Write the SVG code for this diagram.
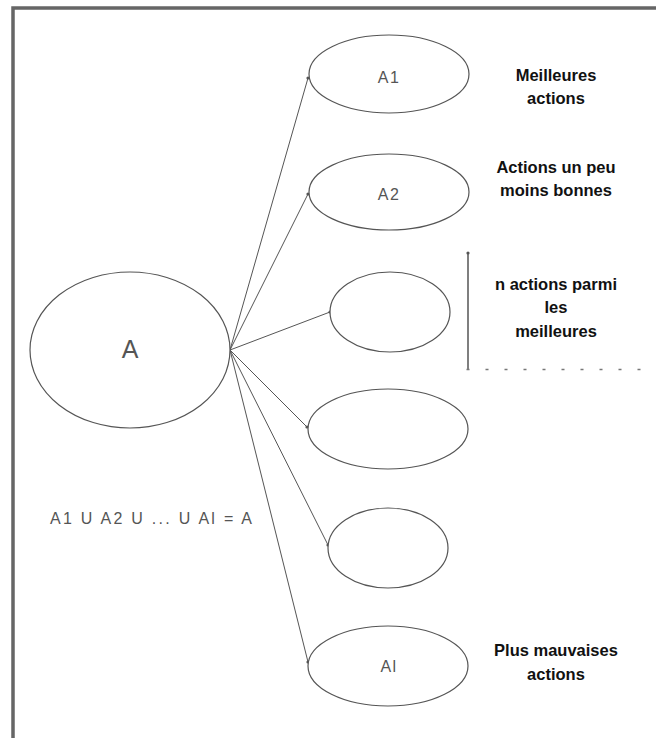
<svg xmlns="http://www.w3.org/2000/svg" width="656" height="738" viewBox="0 0 656 738">
  <defs>
    <marker id="dot" viewBox="0 0 4 4" refX="2" refY="2" markerWidth="4" markerHeight="4" markerUnits="userSpaceOnUse">
      <circle cx="2" cy="2" r="1.6" fill="#555"/>
    </marker>
  </defs>
  <style>
    .node { fill: #fff; stroke: #555; stroke-width: 1.2; }
    .lbl { font-family: "Liberation Sans", Arial, sans-serif; font-size: 16px; fill: #555; text-anchor: middle; letter-spacing: 1.5px; }
    .big { font-size: 25px; letter-spacing: 0; }
    .note { font-family: "Liberation Sans", Arial, sans-serif; font-size: 16.5px; font-weight: bold; fill: #111; text-anchor: middle; }
    .edge { stroke: #555; stroke-width: 1; fill: none; marker-end: url(#dot); }
  </style>

  <rect x="0" y="0" width="656" height="738" fill="#fff"/>
  <!-- outer frame -->
  <path d="M13 745 V8 H670" fill="none" stroke="#666" stroke-width="3.5"/>

  <!-- connectors from the root set -->
  <g id="connectors">
    <line class="edge" x1="230" y1="350" x2="308" y2="78"/>
    <line class="edge" x1="230" y1="350" x2="308" y2="194"/>
    <line class="edge" x1="230" y1="350" x2="330" y2="312"/>
    <line class="edge" x1="230" y1="350" x2="307" y2="427"/>
    <line class="edge" x1="230" y1="350" x2="328" y2="545"/>
    <line class="edge" x1="230" y1="350" x2="308" y2="662"/>
    <!-- bracket for the n best actions -->
    <line class="edge" x1="468" y1="369" x2="468" y2="253" style="stroke-width:1.5"/>
    <line x1="466.5" y1="369.5" x2="650" y2="369.5" stroke="#777" stroke-width="1.5" stroke-dasharray="3 16"/>
  </g>

  <g id="nodeA">
    <ellipse class="node" cx="130" cy="350" rx="100" ry="78"/>
    <text class="lbl big" x="130" y="358">A</text>
  </g>
  <g id="nodeA1">
    <ellipse class="node" cx="389" cy="74" rx="80" ry="39"/>
    <text class="lbl" x="389" y="83">A1</text>
  </g>
  <g id="nodeA2">
    <ellipse class="node" cx="389" cy="192" rx="80" ry="38"/>
    <text class="lbl" x="389" y="200">A2</text>
  </g>
  <g id="node3">
    <ellipse class="node" cx="390" cy="312" rx="60" ry="40"/>
  </g>
  <g id="node4">
    <ellipse class="node" cx="388" cy="429" rx="80" ry="40"/>
  </g>
  <g id="node5">
    <ellipse class="node" cx="388" cy="548" rx="60" ry="40"/>
  </g>
  <g id="nodeAl">
    <ellipse class="node" cx="388" cy="666" rx="80" ry="40"/>
    <text class="lbl" x="389" y="672">Al</text>
  </g>

  <text class="lbl" x="50" y="524" textLength="202" lengthAdjust="spacing" style="text-anchor:start;letter-spacing:0">A1 U A2 U ... U Al = A</text>

  <g id="notes">
    <text class="note" x="556" y="81">Meilleures</text>
    <text class="note" x="556" y="104">actions</text>
    <text class="note" x="556" y="173">Actions un peu</text>
    <text class="note" x="556" y="196">moins bonnes</text>
    <text class="note" x="556" y="290">n actions parmi</text>
    <text class="note" x="556" y="313">les</text>
    <text class="note" x="556" y="337">meilleures</text>
    <text class="note" x="556" y="656">Plus mauvaises</text>
    <text class="note" x="556" y="680">actions</text>
  </g>
</svg>
